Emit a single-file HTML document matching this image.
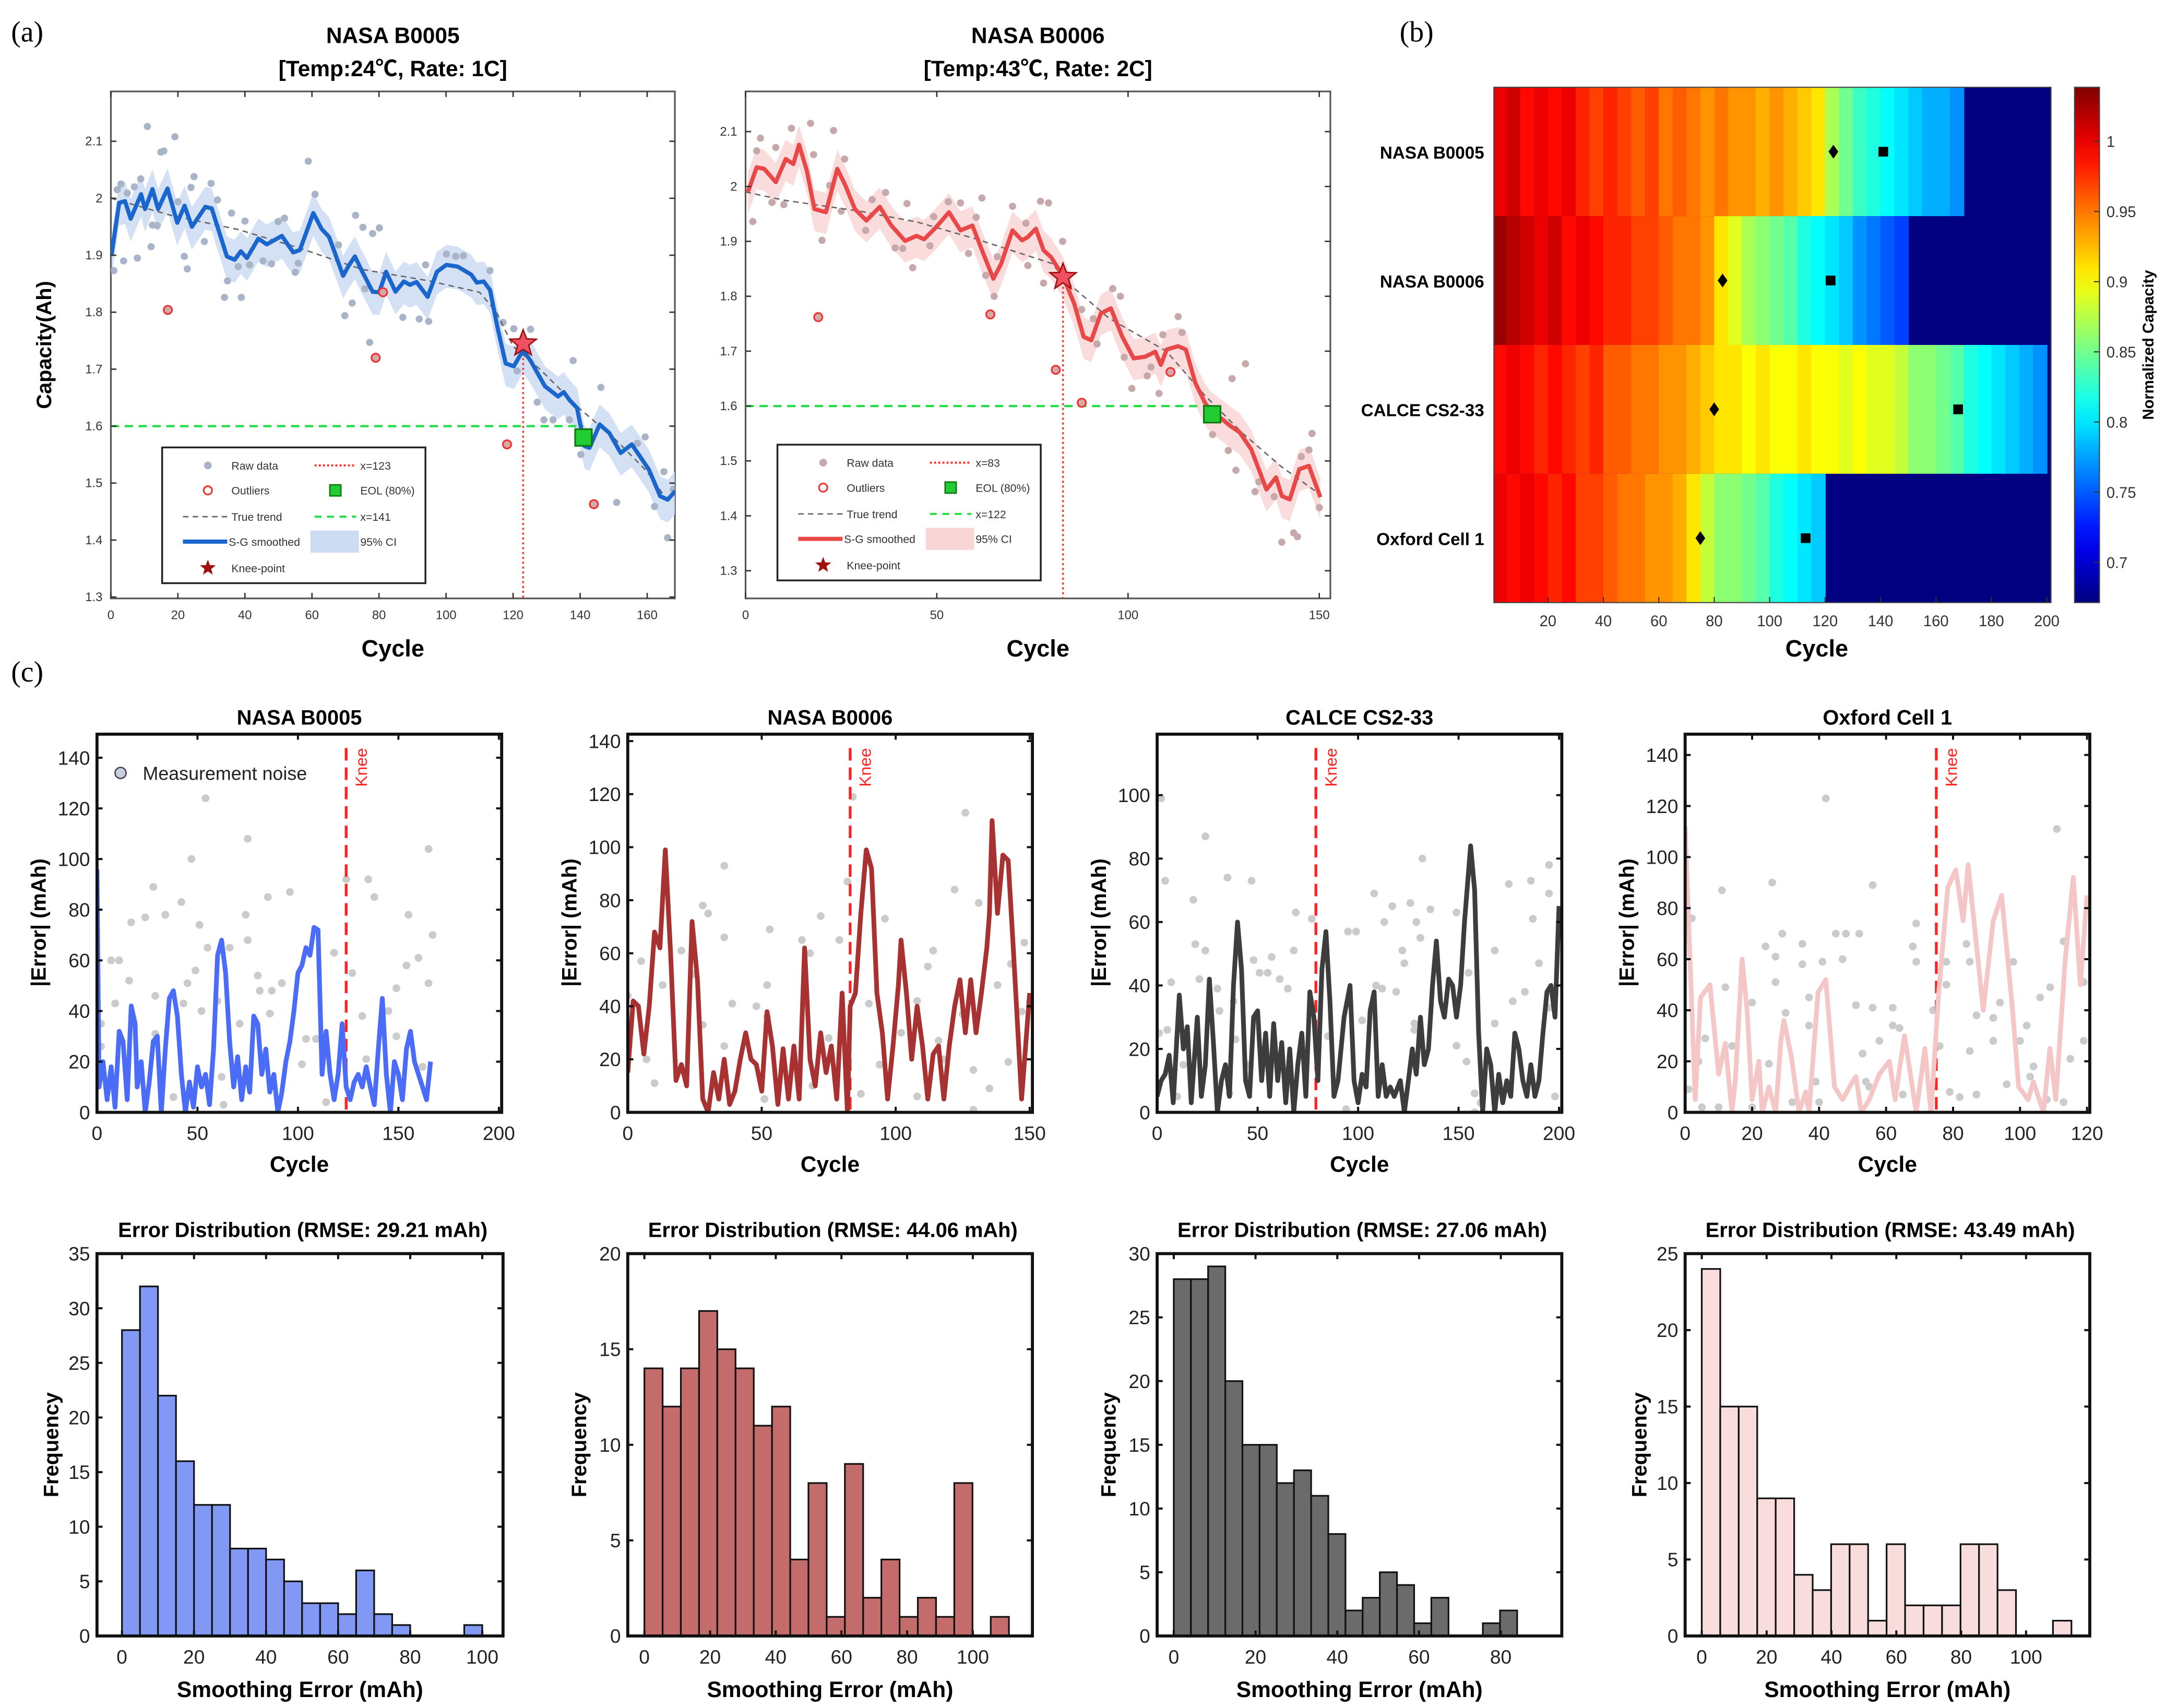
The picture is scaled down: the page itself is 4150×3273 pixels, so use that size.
<!DOCTYPE html>
<html><head><meta charset="utf-8"><title>Battery capacity smoothing figure</title>
<style>
html,body{margin:0;padding:0;background:#fff;}
svg{display:block;font-family:"Liberation Sans",Arial,sans-serif;}
</style></head>
<body>
<svg id="fig" width="4150" height="3273" viewBox="0 0 1563 1233" preserveAspectRatio="none" xmlns="http://www.w3.org/2000/svg">
<defs>
<linearGradient id="jetbar" x1="0" y1="1" x2="0" y2="0"></linearGradient>
</defs>
<rect x="0" y="0" width="1563" height="1233" fill="#fff"/>
<text x="8" y="30" font-family="Liberation Serif,serif" font-size="21">(a)</text>
<text x="1010" y="30" font-family="Liberation Serif,serif" font-size="21">(b)</text>
<text x="8" y="492" font-family="Liberation Serif,serif" font-size="21">(c)</text>
</svg>
<script>
// ---------------- DATA ----------------
// Panel (a) NASA B0005
const b5Smooth = [[0.2,1.901],[2.5,1.992],[4.2,1.995],[5.9,1.964],[9.0,2.007],[10.2,1.981],[12.4,2.016],[14.1,1.981],[16.9,2.017],[19.8,1.957],[22.0,1.987],[24.2,1.950],[28.2,1.985],[30.1,1.982],[34.6,1.898],[36.9,1.892],[38.8,1.907],[40.6,1.895],[44.0,1.929],[46.5,1.919],[51.0,1.934],[54.4,1.905],[56.4,1.909],[60.4,1.974],[62.9,1.946],[65.1,1.932],[69.3,1.864],[70.8,1.880],[72.8,1.898],[74.5,1.877],[78.1,1.836],[80.1,1.835],[82.1,1.871],[84.9,1.836],[87.4,1.854],[89.2,1.848],[91.2,1.853],[94.5,1.827],[97.3,1.871],[100.1,1.883],[103.5,1.880],[107.5,1.866],[109.2,1.852],[111.2,1.854],[113.1,1.839],[115.4,1.772],[117.8,1.710],[120.2,1.705],[123.0,1.733],[125.2,1.715],[129.5,1.670],[133.4,1.652],[135.1,1.660],[136.8,1.646],[139.1,1.632],[141.3,1.565],[142.8,1.562],[145.8,1.603],[148.7,1.588],[152.1,1.553],[155.4,1.568],[160.5,1.524],[163.9,1.477],[166.1,1.471],[168.4,1.486]];
const b5Trend = [[0,2.0],[18,1.97],[38,1.945],[55,1.915],[75,1.875],[95,1.855],[110,1.835],[115,1.80],[120,1.74],[128,1.70],[140,1.63],[150,1.58],[160,1.52],[166,1.47]];
const b5Raw = [[10.9,2.126],[19.1,2.108],[14.9,2.081],[15.8,2.083],[58.9,2.065],[24.8,2.038],[8.9,2.034],[29.9,2.026],[3.0,2.025],[1.9,2.015],[7.0,2.020],[4.9,2.009],[23.9,2.019],[60.9,2.007],[31.8,1.997],[12.4,1.953],[13.8,1.952],[36.0,1.974],[40.0,1.960],[20.0,1.994],[51.8,1.965],[49.9,1.959],[73.0,1.970],[75.2,1.949],[80.1,1.948],[78.1,1.938],[27.9,1.924],[12.0,1.915],[21.9,1.898],[7.9,1.895],[3.8,1.890],[0.9,1.873],[22.8,1.876],[38.0,1.880],[41.4,1.883],[45.4,1.890],[47.9,1.885],[55.0,1.870],[55.9,1.886],[34.8,1.855],[33.9,1.826],[38.9,1.826],[67.9,1.918],[69.8,1.794],[72.0,1.816],[75.8,1.841],[77.2,1.747],[87.1,1.791],[92.0,1.788],[94.8,1.784],[93.9,1.883],[100.1,1.902],[102.9,1.898],[105.2,1.899],[113.1,1.873],[117.0,1.782],[120.2,1.771],[125.2,1.770],[121.2,1.697],[127.2,1.642],[129.2,1.611],[131.9,1.611],[137.9,1.715],[146.2,1.668],[140.2,1.550],[150.9,1.466],[157.1,1.570],[159.4,1.581],[162.2,1.459],[166.1,1.404],[165.0,1.520],[167.8,1.489],[136.8,1.611]];
const b5Outliers = [[17.0,1.804],[79.0,1.720],[81.2,1.835],[118.2,1.568],[144.1,1.463]];
const b5Knee = [123,1.745];
const b5Eol = [141,1.58];
// Panel (a) NASA B0006
const b6Smooth = [[0.6,1.990],[2.9,2.035],[4.9,2.032],[7.9,2.008],[10.5,2.050],[12.5,2.041],[14.0,2.076],[16.0,2.029],[18.0,1.959],[21.0,1.953],[24.0,2.032],[26.1,2.002],[28.6,1.959],[31.6,1.938],[35.1,1.963],[38.1,1.929],[41.7,1.901],[44.7,1.910],[46.7,1.904],[49.7,1.925],[53.2,1.953],[56.2,1.920],[59.3,1.929],[61.8,1.884],[64.8,1.832],[66.8,1.859],[69.8,1.920],[72.3,1.902],[73.8,1.908],[75.9,1.923],[77.9,1.884],[79.9,1.871],[82.9,1.838],[85.9,1.787],[88.4,1.726],[90.4,1.720],[92.9,1.769],[95.5,1.778],[98.5,1.726],[101.5,1.687],[104.5,1.690],[107.1,1.699],[108.6,1.675],[110.1,1.703],[113.1,1.709],[115.1,1.703],[117.6,1.642],[120.1,1.606],[121.6,1.591],[124.6,1.576],[126.7,1.564],[129.2,1.552],[132.2,1.521],[136.2,1.448],[138.7,1.470],[140.2,1.436],[142.3,1.430],[144.8,1.485],[147.3,1.491],[150.3,1.434]];
const b6Trend = [[0,1.99],[10,1.975],[20,1.965],[30,1.955],[45,1.935],[60,1.905],[80,1.86],[85,1.82],[95,1.76],[110,1.70],[120,1.62],[130,1.55],[140,1.49],[150,1.44]];
const b6Raw = [[17.0,2.115],[12.0,2.106],[23.0,2.102],[3.9,2.088],[2.9,2.065],[7.9,2.071],[17.8,2.058],[25.9,2.050],[1.9,1.936],[6.9,1.971],[10.0,1.967],[20.0,1.902],[22.0,2.002],[25.0,1.955],[36.6,1.989],[33.1,1.976],[31.4,1.920],[42.2,1.969],[49.2,1.945],[53.0,1.972],[56.2,1.970],[61.8,1.979],[60.3,1.944],[69.8,1.964],[77.1,1.973],[79.2,1.970],[73.3,1.933],[73.8,1.856],[65.8,1.872],[62.8,1.838],[65.0,1.800],[43.7,1.852],[39.1,1.888],[41.1,1.887],[48.2,1.892],[58.3,1.878],[77.9,1.824],[82.9,1.900],[87.9,1.776],[90.9,1.759],[96.0,1.814],[98.0,1.800],[91.9,1.713],[99.0,1.689],[101.0,1.632],[105.0,1.655],[108.1,1.623],[106.0,1.671],[109.1,1.730],[113.1,1.763],[114.1,1.734],[130.7,1.677],[127.2,1.650],[122.1,1.548],[126.2,1.519],[128.2,1.483],[133.2,1.444],[134.2,1.462],[138.2,1.435],[140.2,1.352],[143.3,1.369],[144.3,1.362],[145.3,1.508],[148.1,1.550],[150.0,1.415],[147.3,1.520]];
const b6Outliers = [[19.0,1.762],[64.0,1.767],[81.1,1.666],[87.9,1.606],[111.1,1.662]];
const b6Knee = [83,1.835];
const b6Eol = [122,1.585];
const capYTicks = [1.3,1.4,1.5,1.6,1.7,1.8,1.9,2.0,2.1];
const capYTickLabels = ["1.3","1.4","1.5","1.6","1.7","1.8","1.9","2","2.1"];
const b5XTicks = [0,20,40,60,80,100,120,140,160];
const b6XTicks = [0,50,100,150];

// Panel (b) heatmap: normalized capacity per 5-cycle block
const heatRows = ["NASA B0005","NASA B0006","CALCE CS2-33","Oxford Cell 1"];
const heatB5 = [1.00,1.01,0.99,1.00,0.99,1.00,0.98,0.97,0.98,0.97,0.96,0.97,0.95,0.96,0.95,0.94,0.95,0.94,0.94,0.93,0.94,0.93,0.92,0.91,0.87,0.85,0.83,0.82,0.81,0.80,0.79,0.78,0.78,0.77];
const heatB6 = [1.03,1.02,1.01,1.00,1.01,0.99,1.00,0.99,0.98,0.98,0.97,0.97,0.96,0.95,0.95,0.94,0.91,0.89,0.87,0.86,0.85,0.84,0.82,0.81,0.80,0.79,0.77,0.76,0.75,0.74];
const heatCalce = [0.99,1.00,0.99,0.98,0.99,0.98,0.97,0.98,0.96,0.96,0.95,0.95,0.94,0.94,0.93,0.92,0.91,0.91,0.90,0.91,0.90,0.90,0.91,0.90,0.90,0.89,0.90,0.89,0.89,0.88,0.86,0.86,0.85,0.84,0.82,0.81,0.80,0.79,0.78,0.77];
const heatOxford = [1.00,0.99,1.00,0.99,0.98,0.99,0.97,0.97,0.96,0.95,0.95,0.94,0.94,0.93,0.91,0.88,0.86,0.86,0.85,0.84,0.82,0.81,0.80,0.79];
const heatKnee = [123,83,80,75];
const heatEol = [141,122,168,113];
const heatXTicks = [20,40,60,80,100,120,140,160,180,200];
const cbarTicks = [0.7,0.75,0.8,0.85,0.9,0.95,1];

// Panel (c) error traces [cycle, |error| mAh]
const e1Line = [[0,96],[1,10],[3,20],[5,5],[7,18],[9,2],[11,32],[13,28],[15,5],[17,42],[19,35],[20,10],[22,20],[24,0],[26,12],[28,28],[30,30],[32,0],[34,25],[36,45],[38,48],[40,38],[42,15],[44,0],[46,12],[48,2],[50,18],[52,10],[54,15],[56,3],[58,25],[60,62],[62,68],[64,55],[66,28],[68,10],[70,22],[72,5],[74,18],[76,8],[78,38],[80,35],[82,15],[84,25],[86,8],[88,15],[90,0],[92,8],[94,20],[96,28],[98,40],[100,55],[102,58],[104,65],[106,62],[108,73],[110,72],[112,15],[114,32],[116,15],[118,5],[120,15],[122,35],[124,10],[126,5],[128,12],[130,15],[132,10],[134,18],[136,10],[138,3],[140,25],[142,45],[144,15],[146,0],[148,20],[150,15],[152,5],[154,25],[156,32],[158,20],[160,15],[162,10],[164,5],[166,20]];
const e1Noise = [[54,124],[75,108],[47,100],[124,92],[135,92],[28,89],[96,87],[85,85],[42,83],[138,85],[17,75],[24,77],[34,78],[74,78],[155,78],[51,74],[165,104],[167,70],[55,65],[75,68],[66,65],[118,63],[7,60],[11,60],[16,52],[49,56],[45,51],[80,54],[92,51],[127,55],[154,58],[160,61],[165,51],[149,49],[29,46],[81,48],[87,48],[9,43],[43,43],[52,40],[86,39],[132,38],[145,40],[2,35],[29,31],[71,35],[104,29],[109,29],[60,44],[102,19],[134,21],[149,30],[162,18],[62,14],[38,6],[63,3],[114,4],[2,26]];
const e2Line = [[0,15],[2,42],[4,40],[6,22],[8,40],[10,68],[12,62],[14,99],[16,60],[18,12],[20,18],[22,10],[24,72],[26,50],[28,5],[30,0],[32,15],[34,5],[36,20],[38,3],[40,8],[42,20],[44,30],[46,20],[48,18],[50,8],[52,38],[54,25],[56,3],[58,24],[60,5],[62,25],[64,5],[66,62],[68,20],[70,10],[72,30],[74,15],[76,25],[78,5],[80,45],[82,0],[83,40],[85,45],[87,75],[89,99],[91,92],[93,45],[95,30],[97,5],[99,25],[101,48],[102,65],[104,45],[106,20],[108,40],[110,25],[112,5],[114,22],[116,25],[118,5],[120,25],[122,40],[124,50],[126,30],[128,50],[130,30],[132,45],[134,62],[135,75],[136,110],[138,75],[140,97],[142,95],[144,60],[147,5],[150,45]];
const e2Noise = [[84,119],[126,113],[36,93],[82,87],[122,84],[28,78],[30,75],[131,79],[96,73],[72,74],[53,69],[36,66],[65,65],[148,64],[79,65],[20,61],[68,60],[5,57],[114,61],[143,56],[112,55],[25,52],[13,48],[52,48],[138,48],[0,44],[39,41],[48,40],[90,41],[108,42],[52,36],[125,37],[147,38],[28,33],[75,28],[102,30],[116,27],[36,25],[7,20],[94,18],[118,20],[142,19],[129,16],[10,11],[69,10],[135,9],[51,5],[129,1],[108,6],[87,7]];
const e3Line = [[0,5],[2,10],[4,12],[6,18],[8,3],[11,37],[13,20],[15,27],[17,3],[20,30],[22,5],[24,15],[26,42],[28,22],[30,0],[32,10],[34,15],[36,5],[38,40],[40,60],[42,45],[44,10],[46,5],[48,30],[50,32],[52,10],[54,25],[56,5],[58,28],[60,10],[62,22],[64,3],[66,20],[68,0],[70,15],[72,25],[74,5],[76,38],[78,30],[80,10],[82,45],[84,57],[86,35],[88,5],[90,10],[93,30],[96,40],[98,10],[100,3],[102,12],[104,8],[106,32],[108,38],[110,5],[112,15],[114,5],[116,8],[118,5],[121,10],[123,0],[125,10],[127,20],[129,12],[131,30],[133,15],[135,20],[137,40],[139,54],[141,35],[143,30],[145,42],[147,40],[149,30],[151,40],[153,60],[156,84],[158,70],[160,25],[162,0],[164,20],[166,15],[168,0],[170,12],[172,3],[174,10],[176,5],[178,25],[180,20],[182,10],[184,5],[186,15],[188,5],[190,10],[192,25],[194,38],[196,40],[198,30],[200,65]];
const e3Noise = [[2,99],[4,73],[24,87],[18,67],[35,74],[47,73],[132,80],[136,64],[108,69],[117,65],[126,66],[129,60],[113,60],[69,63],[77,61],[95,57],[99,57],[149,63],[175,72],[186,73],[187,61],[195,69],[195,78],[19,53],[24,51],[68,51],[168,51],[57,49],[48,48],[55,44],[51,44],[122,51],[123,47],[131,55],[190,47],[183,38],[7,41],[21,42],[61,42],[109,40],[112,39],[119,38],[128,28],[155,44],[30,39],[65,39],[31,32],[38,35],[102,29],[177,35],[168,28],[5,26],[1,25],[39,23],[85,24],[149,21],[128,26],[45,15],[154,16],[195,33],[13,15],[10,5],[36,6],[94,1],[158,0],[158,6],[161,3],[198,5]];
const e4Line = [[0,112],[3,5],[4.6,45],[7.4,50],[10,15],[12,27],[14,0],[15,13],[17,60],[18.5,40],[20,5],[22,20],[23,0],[25,10],[27,0],[28.6,28],[29.5,36],[31.7,22],[34,0],[36,8],[37,0],[39.7,47],[42,52],[44.6,10],[47,5],[50,12],[51,14],[52.6,0],[55,5],[58,15],[61,20],[62.7,5],[65.5,30],[69,0],[71.6,25],[73.4,0],[75.6,45],[78.4,88],[80.8,95],[83,75],[84.5,97],[89,40],[92,75],[94.5,85],[97.8,40],[99.6,10],[102.4,5],[104,12],[107,0],[108.9,25],[110.7,5],[113.5,60],[115.9,92],[118,50],[120,85]];
const e4Noise = [[42,123],[111,111],[11,87],[26,90],[56,89],[2,76],[29,70],[45,70],[48,70],[52,70],[69,74],[35,66],[24,65],[84,66],[113,67],[27,61],[47,60],[68,65],[69,59],[98,59],[78,59],[85,59],[35,58],[41,59],[27,51],[78,50],[12,49],[109,49],[119,51],[37,45],[94,43],[106,45],[51,42],[56,41],[62,41],[20,43],[30,39],[87,38],[92,37],[74,40],[37,34],[62,34],[64,33],[102,34],[6,29],[14,26],[53,23],[58,28],[76,26],[85,24],[92,28],[100,28],[115,21],[119,28],[4,20],[25,19],[103,14],[104,18],[39,12],[96,11],[79,8],[54,12],[55,10],[65,7],[1,9],[5,2],[10,2],[20,2],[32,4],[40,4],[82,6],[87,7],[113,4],[108,5]];
const kneeCycles = [124,83,79,75];
// histograms: counts per bin
const h1Counts = [28,32,22,16,12,12,8,8,7,5,3,3,2,6,2,1,0,0,0,1];
const h2Counts = [14,12,14,17,15,14,11,12,4,8,1,9,2,4,1,2,1,8,0,1];
const h3Counts = [28,28,29,20,15,15,12,13,11,8,2,3,5,4,1,3,0,0,1,2];
const h4Counts = [24,15,15,9,9,4,3,6,6,1,6,2,2,2,6,6,3,0,0,1];
const binWidths = [5,5.55,4.2,5.7];
const rmseLabels = ["29.21","44.06","27.06","43.49"];

// ---------------- HELPERS ----------------
const NS='http://www.w3.org/2000/svg';
const svg=document.getElementById('fig');
function mk(tag,attrs,parent){const e=document.createElementNS(NS,tag);for(const k in attrs)e.setAttribute(k,attrs[k]);(parent||svg).appendChild(e);return e;}
function lin(d0,d1,r0,r1){return v=>r0+(v-d0)*(r1-r0)/(d1-d0);}
function txt(x,y,s,attrs,parent){const t=mk('text',Object.assign({x:x,y:y},attrs),parent);t.textContent=s;return t;}
function starPath(cx,cy,R){const r=R*0.42;let d='';for(let i=0;i<10;i++){const a=-Math.PI/2+i*Math.PI/5;const rr=i%2?r:R;d+=(i?'L':'M')+(cx+rr*Math.cos(a)).toFixed(2)+' '+(cy+rr*Math.sin(a)).toFixed(2);}return d+'Z';}
function jet(v){const t=Math.max(0,Math.min(1,(v-0.671)/(1.039-0.671)));const c=x=>Math.round(255*Math.max(0,Math.min(1,1.5-Math.abs(4*t-x))));return 'rgb('+c(3)+','+c(2)+','+c(1)+')';}

// ---------------- PANEL A ----------------
function drawCap(cfg){
  const g=mk('g',{});
  
  
  const X=cfg.x, Y=cfg.y, B=cfg.box;
  const clipId=cfg.name+'-clip';
  const cp=mk('clipPath',{id:clipId},g);mk('rect',{x:B[0],y:B[1],width:B[2]-B[0],height:B[3]-B[1]},cp);
  const frame=mk('rect',{x:B[0],y:B[1],width:B[2]-B[0],height:B[3]-B[1],fill:'#fff',stroke:'#555','stroke-width':1.2},g);
  
  
  const inner=mk('g',{'clip-path':'url(#'+clipId+')'},g);
  // CI band
  let up=cfg.smooth.map(p=>X(p[0]).toFixed(1)+','+Y(p[1]+0.035).toFixed(1));
  let lo=cfg.smooth.slice().reverse().map(p=>X(p[0]).toFixed(1)+','+Y(p[1]-0.04).toFixed(1));
  const band=mk('polygon',{points:up.concat(lo).join(' '),fill:cfg.band,opacity:0.85},inner);
  
  
  cfg.raw.forEach(p=>{const c=mk('circle',{cx:X(p[0]),cy:Y(p[1]),r:2.6,fill:cfg.rawColor},inner);
    
    });
  const tr=mk('polyline',{points:cfg.trend.map(p=>X(p[0]).toFixed(1)+','+Y(p[1]).toFixed(1)).join(' '),fill:'none',stroke:'#666','stroke-width':1,'stroke-dasharray':'4 3'},inner);
  
  
  const eol=mk('line',{x1:B[0],x2:X(cfg.eol[0]),y1:Y(1.6),y2:Y(1.6),stroke:'#22dd44','stroke-width':1.6,'stroke-dasharray':'6 4'},inner);
  
  
  const kl=mk('line',{x1:X(cfg.knee[0]),x2:X(cfg.knee[0]),y1:Y(cfg.knee[1]),y2:B[3],stroke:'#ff3333','stroke-width':1.3,'stroke-dasharray':'1.5 2'},inner);
  
  
  const sm=mk('polyline',{points:cfg.smooth.map(p=>X(p[0]).toFixed(1)+','+Y(p[1]).toFixed(1)).join(' '),fill:'none',stroke:cfg.line,'stroke-width':3,'stroke-linejoin':'round'},inner);
  
  
  cfg.outliers.forEach(p=>{const c=mk('circle',{cx:X(p[0]),cy:Y(p[1]),r:3,fill:'#d6a9a9',stroke:'#ee3333','stroke-width':1.2},inner);
    
    });
  const st=mk('path',{d:starPath(X(cfg.knee[0]),Y(cfg.knee[1]),10),fill:'#f05060',stroke:'#9b1010','stroke-width':1},inner);
  
  
  const sq=mk('rect',{x:X(cfg.eol[0])-6,y:Y(cfg.eol[1])-6,width:12,height:12,fill:'#22cc33',stroke:'#117711','stroke-width':1.2},inner);
  
  
  // ticks
  cfg.xt.forEach(v=>{const x=X(v);
    const t1=mk('line',{x1:x,x2:x,y1:B[3],y2:B[3]-4,stroke:'#333','stroke-width':1},g);
    
    
    const t2=mk('line',{x1:x,x2:x,y1:B[1],y2:B[1]+4,stroke:'#333','stroke-width':1},g);
    
    
    const l=txt(x,B[3]+15,String(v),{'font-size':9,'text-anchor':'middle',fill:'#333'},g);
    
    });
  capYTicks.forEach((v,i)=>{const y=Y(v);
    const t1=mk('line',{x1:B[0],x2:B[0]+4,y1:y,y2:y,stroke:'#333','stroke-width':1},g);
    
    
    const t2=mk('line',{x1:B[2],x2:B[2]-4,y1:y,y2:y,stroke:'#333','stroke-width':1},g);
    
    
    const l=txt(B[0]-6,y+3,capYTickLabels[i],{'font-size':9,'text-anchor':'end',fill:'#333'},g);
    
    });
  const cx=(B[0]+B[2])/2;
  const t1=txt(cx,31,cfg.title1,{'font-size':16,'font-weight':'bold','text-anchor':'middle'},g);
  
  
  const t2=txt(cx,55,cfg.title2,{'font-size':16,'font-weight':'bold','text-anchor':'middle',
    'font-family':'"Liberation Sans","Noto Sans CJK SC",sans-serif'},g);
  
  
  const xl=txt(cx,474,'Cycle',{'font-size':17,'font-weight':'bold','text-anchor':'middle'},g);
  
  
  // legend
  const L=cfg.leg;
  const lg=mk('g',{},g);
  
  
  const lb=mk('rect',{x:L[0],y:L[1],width:190,height:98,fill:'#fff',stroke:'#222','stroke-width':1.3},lg);
  
  
  const lx=L[0], ly=L[1], fs={'font-size':8,fill:'#333'};
  const rows=[13,31,50,68,87];
  let e;
  e=mk('circle',{cx:lx+33,cy:ly+rows[0],r:2.8,fill:cfg.rawColor},lg);
  
  
  e=txt(lx+50,ly+rows[0]+3,'Raw data',fs,lg);
  
  
  e=mk('line',{x1:lx+110,x2:lx+140,y1:ly+rows[0],y2:ly+rows[0],stroke:'#ff3333','stroke-width':1.5,'stroke-dasharray':'1.5 1.5'},lg);
  
  
  e=txt(lx+143,ly+rows[0]+3,'x='+cfg.knee[0],fs,lg);
  
  
  e=mk('circle',{cx:lx+33,cy:ly+rows[1],r:3,fill:'none',stroke:'#ee3333','stroke-width':1.2},lg);
  
  
  e=txt(lx+50,ly+rows[1]+3,'Outliers',fs,lg);
  
  
  e=mk('rect',{x:lx+121,y:ly+rows[1]-4,width:8,height:8,fill:'#22cc33',stroke:'#117711','stroke-width':1},lg);
  
  
  e=txt(lx+143,ly+rows[1]+3,'EOL (80%)',fs,lg);
  
  
  e=mk('line',{x1:lx+15,x2:lx+47,y1:ly+rows[2],y2:ly+rows[2],stroke:'#666','stroke-width':1,'stroke-dasharray':'4 3'},lg);
  
  
  e=txt(lx+50,ly+rows[2]+3,'True trend',fs,lg);
  
  
  e=mk('line',{x1:lx+110,x2:lx+140,y1:ly+rows[2],y2:ly+rows[2],stroke:'#22dd44','stroke-width':1.5,'stroke-dasharray':'5 4'},lg);
  
  
  e=txt(lx+143,ly+rows[2]+3,'x='+cfg.eol[0],fs,lg);
  
  
  e=mk('line',{x1:lx+15,x2:lx+47,y1:ly+rows[3],y2:ly+rows[3],stroke:cfg.line,'stroke-width':3},lg);
  
  
  e=txt(lx+48,ly+rows[3]+3,'S-G smoothed',fs,lg);
  
  
  e=mk('rect',{x:lx+107,y:ly+rows[3]-8,width:35,height:16,fill:cfg.band},lg);
  
  
  e=txt(lx+143,ly+rows[3]+3,'95% CI',fs,lg);
  
  
  e=mk('path',{d:starPath(lx+33,ly+rows[4],6),fill:'#a01010'},lg);
  
  
  e=txt(lx+50,ly+rows[4]+3,'Knee-point',fs,lg);
  
  
}
drawCap({name:'capacity-chart-b0005',box:[80,66,487,432],x:lin(0,160,80,467),y:lin(2.1,1.3,102,431),
  smooth:b5Smooth,trend:b5Trend,raw:b5Raw,outliers:b5Outliers,knee:b5Knee,eol:b5Eol,xt:b5XTicks,
  band:'#cddcf2',rawColor:'#a9b4c8',line:'#1a66cc',title1:'NASA B0005',title2:'[Temp:24\u2103, Rate: 1C]',leg:[117,323]});
drawCap({name:'capacity-chart-b0006',box:[538,66,960,432],x:lin(0,150,538,952),y:lin(2.1,1.3,95,412),
  smooth:b6Smooth,trend:b6Trend,raw:b6Raw,outliers:b6Outliers,knee:b6Knee,eol:b6Eol,xt:b6XTicks,
  band:'#f9d6d6',rawColor:'#c7a9ab',line:'#e84848',title1:'NASA B0006',title2:'[Temp:43\u2103, Rate: 2C]',leg:[561,321]});
const capYLabel=txt(0,0,'Capacity(Ah)',{'font-size':15,'font-weight':'bold','text-anchor':'middle',transform:'translate(37,249) rotate(-90)'});



// ---------------- PANEL B ----------------
(function(){
  const g=mk('g',{});
  
  
  const HX=lin(0,200,1077,1477);
  const H0=63, RH=93;
  const bg=mk('rect',{x:1078,y:H0,width:402,height:RH*4,fill:jet(0.67)},g);
  
  
  const rowsData=[heatB5,heatB6,heatCalce,heatOxford];
  rowsData.forEach((arr,ri)=>{
    arr.forEach((v,i)=>{
      const x0=Math.max(1078,HX(i*5)), x1=HX(i*5+5);
      const c=mk('rect',{x:x0,y:H0+ri*RH,width:x1-x0+0.4,height:RH,fill:jet(v)},g);
      
      
    });
    const lab=txt(1071,H0+ri*RH+RH/2+5,heatRows[ri],{'font-size':12.5,'font-weight':'bold','text-anchor':'end'},g);
    
    
    const cy=H0+ri*RH+RH/2;
    const dx=HX(heatKnee[ri]);
    const d=mk('path',{d:'M'+dx+' '+(cy-5)+'L'+(dx+3.5)+' '+cy+'L'+dx+' '+(cy+5)+'L'+(dx-3.5)+' '+cy+'Z',fill:'#000'},g);
    
    
    const s=mk('rect',{x:HX(heatEol[ri])-3.5,y:cy-3.5,width:7,height:7,fill:'#000'},g);
    
    
  });
  const fr=mk('rect',{x:1078,y:H0,width:402,height:RH*4,fill:'none',stroke:'#444','stroke-width':0.8},g);
  
  
  heatXTicks.forEach(v=>{
    const tk=mk('line',{x1:HX(v),x2:HX(v),y1:H0+RH*4,y2:H0+RH*4-4,stroke:'#333','stroke-width':0.8},g);
    
    
    const l=txt(HX(v),452,String(v),{'font-size':11,'text-anchor':'middle',fill:'#333'},g);
    
    
  });
  const xl=txt(1311,474,'Cycle',{'font-size':17,'font-weight':'bold','text-anchor':'middle'},g);
  
  
  // colorbar
  const grad=document.getElementById('jetbar');
  for(let i=0;i<=20;i++){const v=0.671+(1.039-0.671)*i/20;mk('stop',{offset:(i*5)+'%','stop-color':jet(v)},grad);}
  const cb=mk('rect',{x:1497,y:63,width:18,height:372,fill:'url(#jetbar)',stroke:'#444','stroke-width':0.8},g);
  
  
  const CY=lin(0.7,1,406,102);
  cbarTicks.forEach(v=>{
    const tk=mk('line',{x1:1511,x2:1515,y1:CY(v),y2:CY(v),stroke:'#333','stroke-width':0.8},g);
    
    
    const l=txt(1520,CY(v)+4,String(v),{'font-size':11,fill:'#333'},g);
    
    
  });
  const ct=txt(0,0,'Normalized Capacity',{'font-size':11,'font-weight':'bold','text-anchor':'middle',transform:'translate(1554,249) rotate(-90)'},g);
  
  
})();

// ---------------- PANEL C ----------------
function boxAxes(g,B,X,Y,xt,yt){
  const fr=mk('rect',{x:B[0],y:B[1],width:B[2]-B[0],height:B[3]-B[1],fill:'none',stroke:'#111','stroke-width':2.2},g);
  
  
  xt.forEach(v=>{const x=X(v);
    const t1=mk('line',{x1:x,x2:x,y1:B[3],y2:B[3]-4,stroke:'#111','stroke-width':1.5},g);
    
    
    const t2=mk('line',{x1:x,x2:x,y1:B[1],y2:B[1]+4,stroke:'#111','stroke-width':1.5},g);
    
    
    const l=txt(x,B[3]+20,String(v),{'font-size':14,'text-anchor':'middle',fill:'#222'},g);
    
    });
  yt.forEach(v=>{const y=Y(v);
    const t1=mk('line',{x1:B[0],x2:B[0]+4,y1:y,y2:y,stroke:'#111','stroke-width':1.5},g);
    
    
    const t2=mk('line',{x1:B[2],x2:B[2]-4,y1:y,y2:y,stroke:'#111','stroke-width':1.5},g);
    
    
    const l=txt(B[0]-5,y+5,String(v),{'font-size':14,'text-anchor':'end',fill:'#222'},g);
    
    });
}
function range(a,b,s){const r=[];for(let v=a;v<=b+1e-9;v+=s)r.push(v);return r;}
const errCfg=[
  {title:'NASA B0005',box:[70,530,362,803],x:lin(0,200,70,360),y:lin(0,140,803,547),xt:range(0,200,50),yt:range(0,140,20),line:e1Line,noise:e1Noise,col:'#4a6cf7',ylx:27,legend:true},
  {title:'NASA B0006',box:[453,530,745,803],x:lin(0,150,453,743),y:lin(0,140,803,535),xt:range(0,150,50),yt:range(0,140,20),line:e2Line,noise:e2Noise,col:'#a83232',ylx:410},
  {title:'CALCE CS2-33',box:[835,530,1127,803],x:lin(0,200,835,1125),y:lin(0,100,803,574),xt:range(0,200,50),yt:range(0,100,20),line:e3Line,noise:e3Noise,col:'#3d3d3d',ylx:792},
  {title:'Oxford Cell 1',box:[1216,530,1508,803],x:lin(0,120,1216,1506),y:lin(0,140,803,545),xt:range(0,120,20),yt:range(0,140,20),line:e4Line,noise:e4Noise,col:'#f4c6c6',ylx:1173}
];
errCfg.forEach((c,i)=>{
  const g=mk('g',{});
  
  
  const B=c.box;
  const cpid='errclip'+i;
  const cp=mk('clipPath',{id:cpid},g);mk('rect',{x:B[0],y:B[1],width:B[2]-B[0],height:B[3]-B[1]},cp);
  const inner=mk('g',{'clip-path':'url(#'+cpid+')'},g);
  c.noise.forEach(p=>{const d=mk('circle',{cx:c.x(p[0]),cy:c.y(p[1]),r:2.8,fill:'#cbcbcb'},inner);
    
    });
  const kx=c.x(kneeCycles[i]);
  const kl=mk('line',{x1:kx,x2:kx,y1:B[1]+10,y2:B[3],stroke:'#ff2222','stroke-width':2,'stroke-dasharray':'9 5'},inner);
  
  
  const pl=mk('polyline',{points:c.line.map(p=>c.x(p[0]).toFixed(1)+','+c.y(p[1]).toFixed(1)).join(' '),fill:'none',stroke:c.col,'stroke-width':3.4,'stroke-linejoin':'round'},inner);
  
  
  const kt=txt(0,0,'Knee',{'font-size':12,fill:'#ff2222',transform:'translate('+(kx+15)+',568) rotate(-90)'},g);
  
  
  boxAxes(g,B,c.x,c.y,c.xt,c.yt);
  const cx=(B[0]+B[2])/2;
  const t=txt(cx,523,c.title,{'font-size':15,'font-weight':'bold','text-anchor':'middle'},g);
  
  
  const xl=txt(cx,846,'Cycle',{'font-size':16,'font-weight':'bold','text-anchor':'middle'},g);
  
  
  const yl=txt(0,0,'|Error| (mAh)',{'font-size':15,'font-weight':'bold','text-anchor':'middle',transform:'translate('+(c.ylx+6)+',666) rotate(-90)'},g);
  
  
  if(c.legend){
    const lc=mk('circle',{cx:87,cy:558,r:4,fill:'#c8d0e0',stroke:'#445',"stroke-width":1},g);
    
    
    const lt=txt(103,563,'Measurement noise',{'font-size':13.5,fill:'#222'},g);
    
    
  }
});
const histCfg=[
  {box:[70,905,363,1181],x:lin(0,100,88,348),y:lin(0,35,1181,905),xt:range(0,100,20),yt:range(0,35,5),counts:h1Counts,fill:'#8199f4',ylx:37},
  {box:[453,905,745,1181],x:lin(0,100,465,702),y:lin(0,20,1181,905),xt:range(0,100,20),yt:range(0,20,5),counts:h2Counts,fill:'#c46b6b',ylx:418},
  {box:[835,905,1127,1181],x:lin(0,80,847,1083),y:lin(0,30,1181,905),xt:range(0,80,20),yt:range(0,30,5),counts:h3Counts,fill:'#6b6b6b',ylx:800},
  {box:[1216,905,1508,1181],x:lin(0,100,1228,1462),y:lin(0,25,1181,905),xt:range(0,100,20),yt:range(0,25,5),counts:h4Counts,fill:'#f9dcdc',ylx:1183}
];
histCfg.forEach((c,i)=>{
  const g=mk('g',{});
  
  
  const bw=binWidths[i];
  c.counts.forEach((n,k)=>{
    if(n<=0)return;
    const x0=c.x(k*bw), x1=c.x((k+1)*bw);
    const r=mk('rect',{x:x0,y:c.y(n),width:x1-x0,height:c.y(0)-c.y(n),fill:c.fill,stroke:'#111','stroke-width':1.2},g);
    
    
  });
  boxAxes(g,c.box,c.x,c.y,c.xt,c.yt);
  const B=c.box, cx=(B[0]+B[2])/2;
  const t=txt(cx+2,893,'Error Distribution (RMSE: '+rmseLabels[i]+' mAh)',{'font-size':15,'font-weight':'bold','text-anchor':'middle'},g);
  
  
  const xl=txt(cx,1225,'Smoothing Error (mAh)',{'font-size':16,'font-weight':'bold','text-anchor':'middle'},g);
  
  
  const yl=txt(0,0,'Frequency',{'font-size':15,'font-weight':'bold','text-anchor':'middle',transform:'translate('+(c.ylx+5)+',1043) rotate(-90)'},g);
  
  
});
</script>
</body></html>
